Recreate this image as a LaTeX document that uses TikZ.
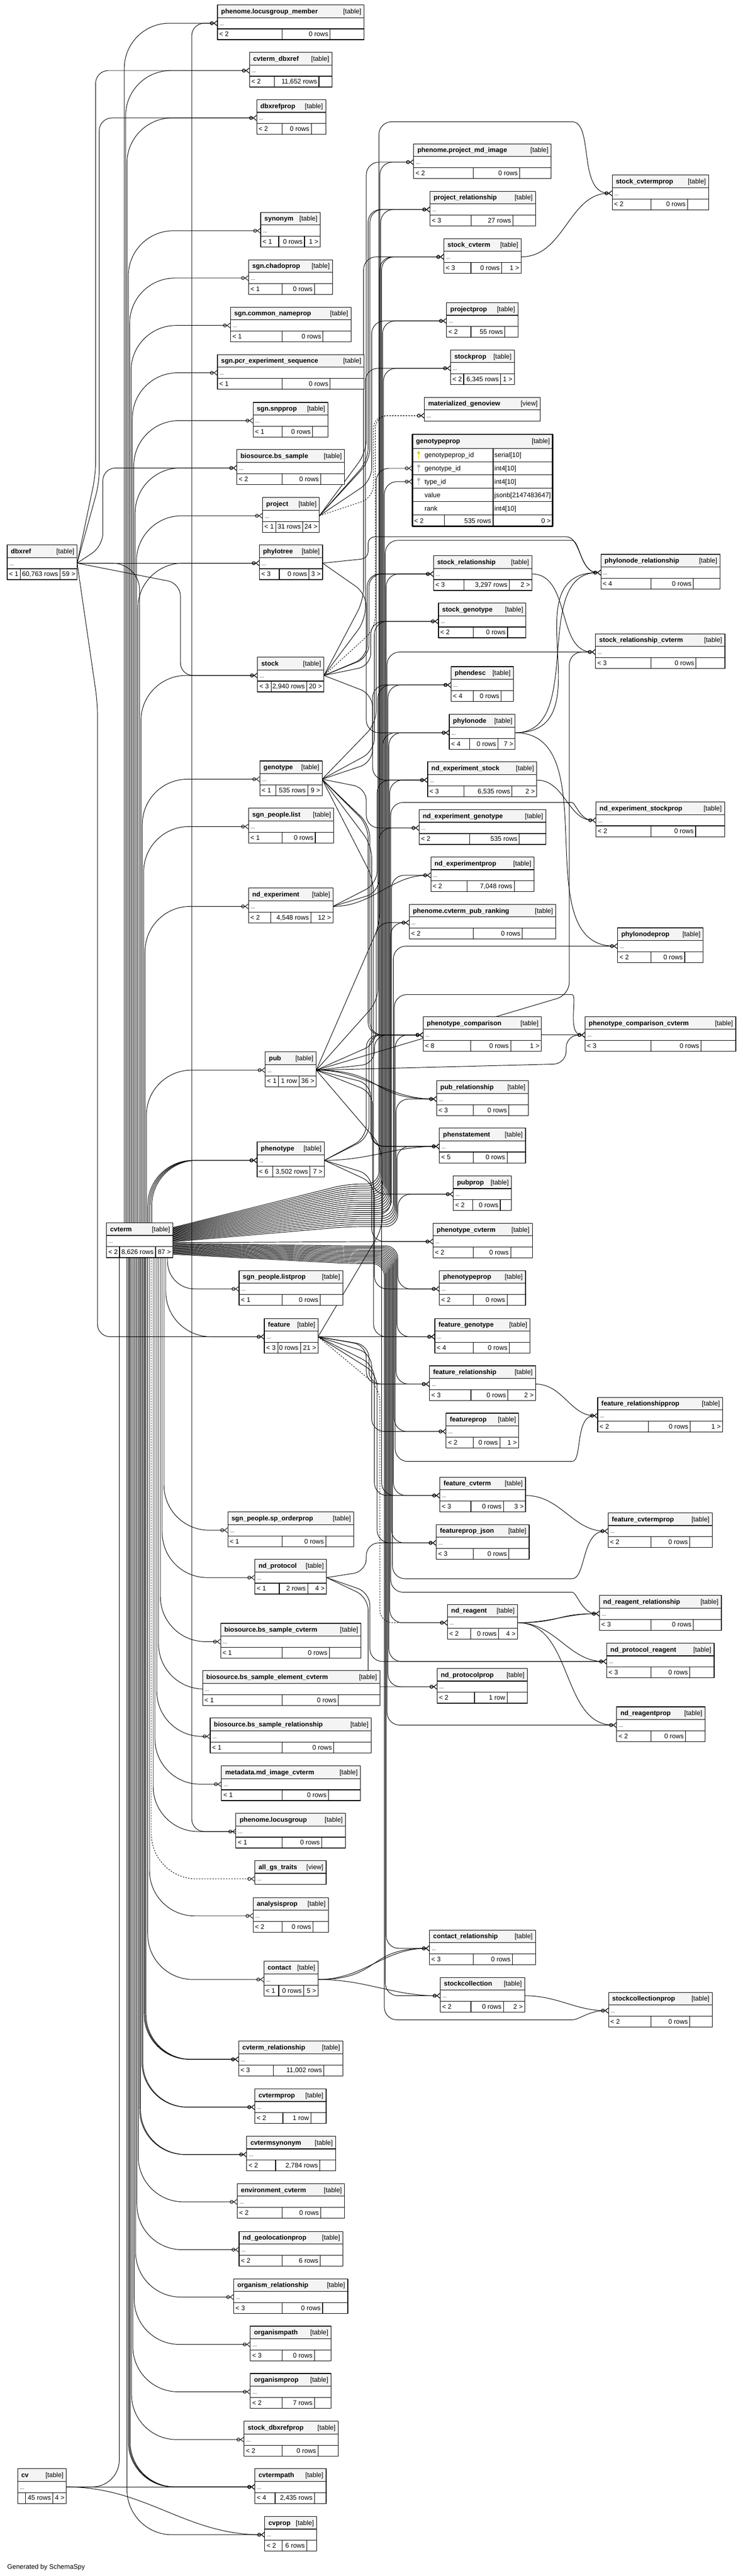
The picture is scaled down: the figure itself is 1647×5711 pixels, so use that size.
\documentclass[tikz,border=0pt]{standalone}
\usepackage{fontspec}
\setmainfont{Liberation Sans}
\usetikzlibrary{arrows.meta,calc}
\definecolor{hdrgray}{HTML}{F4F4F4}
\definecolor{pkyellow}{HTML}{E6D200}
\definecolor{fkgray}{HTML}{B0B0B0}
\pgfdeclarelayer{bg}
\pgfsetlayers{bg,main}

\newcommand{\footcells}[8]{%
  \node[ftxt,anchor=base west] at (#2+4,#1+70) {#6};
  \node[ftxt,anchor=base east] at (#4-4,#1+70) {#7};
  \node[ftxt,anchor=base east] at (#5-4,#1+70) {#8};}
\newcommand{\tbl}[8]{%
  \node[hdrbox,minimum width={#6-#3}] (#1-h) at (#3,#2) {};
  \node[ttl] at (#3+8,#2+19) {#7};
  \node[knd] at (#6-6,#2+19) {[table]};
  \node[dotbox,minimum width={#6-#3}] (#1) at (#3,#2+28) {};
  \node[dtxt] at (#3+5,#2+45) {...};
  \node[footbox,minimum width={#6-#3}] (#1-f) at (#3,#2+53) {};
  \draw[line width=1.3pt] (#4,#2+53) -- (#4,#2+77) (#5,#2+53) -- (#5,#2+77);
  \footcells{#2}{#3}{#4}{#5}{#6}#8}
\newcommand{\vw}[5]{%
  \node[hdrbox,minimum width={#4-#3}] (#1-h) at (#3,#2) {};
  \node[ttl] at (#3+8,#2+19) {#5};
  \node[knd] at (#4-6,#2+19) {[view]};
  \node[dotbox,minimum width={#4-#3}] (#1) at (#3,#2+28) {};
  \node[dtxt] at (#3+5,#2+45) {...};}
\newcommand{\keyico}[3]{%
  \fill[#3] (#1,#2-5) circle (3.3pt);
  \draw[#3,line width=1.8pt] (#1,#2-3) -- (#1,#2+8);}
\newcommand{\fk}[4][]{%
  \path (#2) coordinate (st) (#4,0) coordinate (ln);
  \path ($(st)!0.18!(st |- #3.west)$) coordinate (wp);
  \draw[fk,#1] (st) -- (wp -| ln) -- (#3.west -| ln) -- (#3.west);}
\newcommand{\fks}[3][]{%
  \draw[fk,#1] (#2) to[out=0,in=180] (#3.west);}
\newcommand{\fkv}[4][]{%
  \path ([xshift=#3pt]#2) coordinate (st);
  \draw[fk,rounded corners=100pt,#1] (st) -- (st |- #4.west) -- (#4.west);}
\newcommand{\fkvia}[5][]{%
  \path (#2) coordinate (st) (#4,0) coordinate (ln) (1240,#5) coordinate (vp);
  \path ($(st)!0.18!(st |- vp)$) coordinate (wp);
  \draw[fk,#1] (st) -- (wp -| ln) -- (ln |- vp) -- (vp) to[out=0,in=180] (#3.west);}
\newcommand{\fkc}[5][]{%
  \path ([yshift=#5pt]cvterm.east) coordinate (st) (#3,#4) coordinate (ln);
  \draw[fk,#1] (st) -- (770,#4) -- (ln) -- (#2.west -| ln) -- (#2.west);}
\newcommand{\fkcvia}[6][]{%
  \path ([yshift=#5pt]cvterm.east) coordinate (st) (#3,#4) coordinate (ln) (1240,#6) coordinate (vp);
  \draw[fk,#1] (st) -- (770,#4) -- (ln) -- (ln |- vp) -- (vp) to[out=0,in=180] (#2.west);}

\begin{document}
\begin{tikzpicture}[x=1pt,y=-1pt,line cap=round,line join=round,
  cellbox/.style={draw,line width=1.3pt,fill=white,inner sep=0pt,outer sep=0pt,anchor=north west},
  hdrbox/.style={cellbox,fill=hdrgray,minimum height=28},
  dotbox/.style={cellbox,minimum height=25},
  footbox/.style={cellbox,minimum height=24},
  ttl/.style={font=\fontsize{14.67}{17}\selectfont\bfseries,inner sep=0pt,anchor=base west},
  knd/.style={font=\fontsize{14.67}{17}\selectfont,inner sep=0pt,anchor=base east},
  ftxt/.style={font=\fontsize{14.67}{17}\selectfont,inner sep=0pt},
  dtxt/.style={font=\fontsize{11}{13}\selectfont,inner sep=0pt,anchor=base west},
  fk/.style={line width=1.1pt,rounded corners=28pt,
    -{Circle[open,length=8pt,width=8pt] Straight Barb[reversed,length=7pt,width=11pt]}}]
\useasboundingbox (0,0) rectangle (1647,5711);

\tbl{dbxref}{1208}{16}{45}{133}{171}{dbxref}{{< 1}{60,763 rows}{59 >}}
\tbl{cvterm}{2711}{236}{265}{345}{383}{cvterm}{{< 2}{8,626 rows}{87 >}}
\tbl{cv}{5473}{39}{57}{117}{147}{cv}{{}{45 rows}{4 >}}

\tbl{phenome_locusgroup_member}{11}{482}{625}{732}{807}{phenome.locusgroup\_member}{{< 2}{0 rows}{}}
\tbl{cvterm_dbxref}{116}{553}{608}{707}{736}{cvterm\_dbxref}{{< 2}{11,652 rows}{}}
\tbl{dbxrefprop}{221}{569}{625}{690}{722}{dbxrefprop}{{< 2}{0 rows}{}}
\tbl{synonym}{471}{578}{618}{675}{710}{synonym}{{< 1}{0 rows}{1 >}}
\tbl{sgn_chadoprop}{576}{551}{625}{697}{737}{sgn.chadoprop}{{< 1}{0 rows}{}}
\tbl{sgn_common_nameprop}{681}{511}{625}{716}{778}{sgn.common\_nameprop}{{< 1}{0 rows}{}}
\tbl{sgn_pcr_experiment_sequence}{786}{482}{625}{732}{807}{sgn.pcr\_experiment\_sequence}{{< 1}{0 rows}{}}
\tbl{sgn_snpprop}{892}{561}{625}{693}{727}{sgn.snpprop}{{< 1}{0 rows}{}}
\tbl{biosource_bs_sample}{997}{525}{625}{711}{764}{biosource.bs\_sample}{{< 2}{0 rows}{}}
\tbl{project}{1103}{582}{612}{671}{708}{project}{{< 1}{31 rows}{24 >}}
\tbl{phylotree}{1208}{575}{619}{685}{715}{phylotree}{{< 3}{0 rows}{3 >}}
\tbl{stock}{1457}{571}{601}{680}{718}{stock}{{< 3}{2,940 rows}{20 >}}
\tbl{genotype}{1687}{576}{612}{682}{714}{genotype}{{< 1}{535 rows}{9 >}}
\tbl{sgn_people_list}{1792}{551}{625}{699}{740}{sgn\_people.list}{{< 1}{0 rows}{}}
\tbl{nd_experiment}{1969}{551}{600}{689}{738}{nd\_experiment}{{< 2}{4,548 rows}{12 >}}
\tbl{pub}{2332}{588}{617}{663}{701}{pub}{{< 1}{1 row}{36 >}}
\tbl{phenotype}{2532}{570}{605}{687}{719}{phenotype}{{< 6}{3,502 rows}{7 >}}
\tbl{sgn_people_listprop}{2817}{530}{625}{710}{760}{sgn\_people.listprop}{{< 1}{0 rows}{}}
\tbl{feature}{2923}{586}{616}{666}{705}{feature}{{< 3}{0 rows}{21 >}}
\tbl{sgn_people_sp_orderprop}{3352}{505}{625}{722}{784}{sgn\_people.sp\_orderprop}{{< 1}{0 rows}{}}
\tbl{nd_protocol}{3457}{565}{619}{682}{724}{nd\_protocol}{{< 1}{2 rows}{4 >}}
\tbl{biosource_bs_sample_cvterm}{3599}{489}{625}{730}{800}{biosource.bs\_sample\_cvterm}{{< 1}{0 rows}{}}
\tbl{biosource_bs_sample_element_cvterm}{3704}{449}{625}{750}{842}{biosource.bs\_sample\_element\_cvterm}{{< 1}{0 rows}{}}
\tbl{biosource_bs_sample_relationship}{3809}{466}{625}{740}{823}{biosource.bs\_sample\_relationship}{{< 1}{0 rows}{}}
\tbl{metadata_md_image_cvterm}{3915}{491}{625}{728}{799}{metadata.md\_image\_cvterm}{{< 1}{0 rows}{}}
\tbl{phenome_locusgroup}{4020}{523}{625}{713}{766}{phenome.locusgroup}{{< 1}{0 rows}{}}
\vw{all_gs_traits}{4125}{565}{723}{all\_gs\_traits}
\tbl{analysisprop}{4207}{561}{625}{694}{728}{analysisprop}{{< 2}{0 rows}{}}
\tbl{contact}{4348}{585}{618}{673}{705}{contact}{{< 1}{0 rows}{5 >}}
\tbl{cvterm_relationship}{4525}{529}{606}{718}{760}{cvterm\_relationship}{{< 3}{11,002 rows}{}}
\tbl{cvtermprop}{4631}{565}{627}{689}{723}{cvtermprop}{{< 2}{1 row}{}}
\tbl{cvtermsynonym}{4736}{547}{611}{709}{744}{cvtermsynonym}{{< 2}{2,784 rows}{}}
\tbl{environment_cvterm}{4841}{526}{625}{711}{764}{environment\_cvterm}{{< 2}{0 rows}{}}
\tbl{nd_geolocationprop}{4947}{530}{625}{710}{760}{nd\_geolocationprop}{{< 2}{6 rows}{}}
\tbl{organism_relationship}{5052}{518}{625}{715}{771}{organism\_relationship}{{< 3}{0 rows}{}}
\tbl{organismpath}{5157}{555}{625}{697}{734}{organismpath}{{< 3}{0 rows}{}}
\tbl{organismprop}{5262}{555}{625}{697}{734}{organismprop}{{< 2}{7 rows}{}}
\tbl{stock_dbxrefprop}{5368}{541}{625}{705}{750}{stock\_dbxrefprop}{{< 2}{0 rows}{}}
\tbl{cvtermpath}{5473}{565}{610}{697}{723}{cvtermpath}{{< 4}{2,435 rows}{}}
\tbl{cvprop}{5579}{587}{625}{680}{702}{cvprop}{{< 2}{6 rows}{}}

\tbl{phenome_project_md_image}{319}{917}{1049}{1152}{1222}{phenome.project\_md\_image}{{< 2}{0 rows}{}}
\tbl{project_relationship}{424}{953}{1045}{1137}{1187}{project\_relationship}{{< 3}{27 rows}{}}
\tbl{stock_cvterm}{529}{984}{1044}{1112}{1155}{stock\_cvterm}{{< 3}{0 rows}{1 >}}
\tbl{projectprop}{671}{990}{1044}{1119}{1148}{projectprop}{{< 2}{55 rows}{}}
\tbl{stockprop}{776}{999}{1028}{1110}{1140}{stockprop}{{< 2}{6,345 rows}{1 >}}
\vw{materialized_genoview}{881}{941}{1198}{materialized\_genoview}
\tbl{stock_relationship}{1232}{961}{1029}{1129}{1179}{stock\_relationship}{{< 3}{3,297 rows}{2 >}}
\tbl{stock_genotype}{1337}{972}{1049}{1125}{1166}{stock\_genotype}{{< 2}{0 rows}{}}
\tbl{phendesc}{1478}{1000}{1049}{1111}{1138}{phendesc}{{< 4}{0 rows}{}}
\tbl{phylonode}{1584}{996}{1041}{1104}{1142}{phylonode}{{< 4}{0 rows}{7 >}}
\tbl{nd_experiment_stock}{1689}{948}{1029}{1135}{1190}{nd\_experiment\_stock}{{< 3}{6,535 rows}{2 >}}
\tbl{nd_experiment_genotype}{1795}{929}{1041}{1151}{1210}{nd\_experiment\_genotype}{{< 2}{535 rows}{}}
\tbl{nd_experimentprop}{1900}{955}{1035}{1140}{1184}{nd\_experimentprop}{{< 2}{7,048 rows}{}}
\tbl{phenome_cvterm_pub_ranking}{2005}{907}{1049}{1158}{1232}{phenome.cvterm\_pub\_ranking}{{< 2}{0 rows}{}}
\tbl{phenotype_comparison}{2254}{938}{1043}{1132}{1200}{phenotype\_comparison}{{< 8}{0 rows}{1 >}}
\tbl{pub_relationship}{2396}{968}{1049}{1128}{1171}{pub\_relationship}{{< 3}{0 rows}{}}
\tbl{phenstatement}{2501}{974}{1049}{1124}{1165}{phenstatement}{{< 5}{0 rows}{}}
\tbl{pubprop}{2607}{1005}{1048}{1109}{1134}{pubprop}{{< 2}{0 rows}{}}
\tbl{phenotype_cvterm}{2712}{960}{1049}{1132}{1180}{phenotype\_cvterm}{{< 2}{0 rows}{}}
\tbl{phenotypeprop}{2817}{974}{1049}{1124}{1165}{phenotypeprop}{{< 2}{0 rows}{}}
\tbl{feature_genotype}{2923}{964}{1049}{1129}{1175}{feature\_genotype}{{< 4}{0 rows}{}}
\tbl{feature_relationship}{3028}{952}{1044}{1126}{1187}{feature\_relationship}{{< 3}{0 rows}{2 >}}
\tbl{featureprop}{3133}{989}{1049}{1108}{1150}{featureprop}{{< 2}{0 rows}{1 >}}
\tbl{feature_cvterm}{3275}{975}{1044}{1116}{1165}{feature\_cvterm}{{< 3}{0 rows}{3 >}}
\tbl{featureprop_json}{3380}{967}{1049}{1128}{1173}{featureprop\_json}{{< 3}{0 rows}{}}
\tbl{nd_reagent}{3557}{992}{1043}{1105}{1147}{nd\_reagent}{{< 2}{0 rows}{4 >}}
\tbl{nd_protocolprop}{3699}{969}{1052}{1124}{1169}{nd\_protocolprop}{{< 2}{1 row}{}}
\tbl{contact_relationship}{4279}{952}{1049}{1136}{1187}{contact\_relationship}{{< 3}{0 rows}{}}
\tbl{stockcollection}{4384}{976}{1044}{1116}{1163}{stockcollection}{{< 2}{0 rows}{2 >}}

\tbl{stock_cvtermprop}{388}{1357}{1443}{1524}{1571}{stock\_cvtermprop}{{< 2}{0 rows}{}}
\tbl{phylonode_relationship}{1229}{1332}{1443}{1537}{1596}{phylonode\_relationship}{{< 4}{0 rows}{}}
\tbl{stock_relationship_cvterm}{1405}{1320}{1443}{1543}{1607}{stock\_relationship\_cvterm}{{< 3}{0 rows}{}}
\tbl{nd_experiment_stockprop}{1778}{1321}{1443}{1542}{1606}{nd\_experiment\_stockprop}{{< 2}{0 rows}{}}
\tbl{phylonodeprop}{2057}{1369}{1443}{1518}{1559}{phylonodeprop}{{< 2}{0 rows}{}}
\tbl{phenotype_comparison_cvterm}{2254}{1297}{1443}{1554}{1631}{phenotype\_comparison\_cvterm}{{< 3}{0 rows}{}}
\tbl{feature_relationshipprop}{3098}{1325}{1437}{1530}{1602}{feature\_relationshipprop}{{< 2}{0 rows}{1 >}}
\tbl{feature_cvtermprop}{3354}{1348}{1443}{1529}{1579}{feature\_cvtermprop}{{< 2}{0 rows}{}}
\tbl{nd_reagent_relationship}{3537}{1329}{1443}{1537}{1599}{nd\_reagent\_relationship}{{< 3}{0 rows}{}}
\tbl{nd_protocol_reagent}{3643}{1345}{1443}{1529}{1583}{nd\_protocol\_reagent}{{< 3}{0 rows}{}}
\tbl{nd_reagentprop}{3784}{1367}{1443}{1520}{1563}{nd\_reagentprop}{{< 2}{0 rows}{}}
\tbl{stockcollectionprop}{4417}{1349}{1443}{1529}{1579}{stockcollectionprop}{{< 2}{0 rows}{}}

% genotypeprop, shown with its columns
\node[hdrbox,minimum width=311,minimum height=31] (genotypeprop-h) at (914,963) {};
\node[ttl] at (922,983) {genotypeprop};
\node[knd] at (1219,983) {[table]};
\node[cellbox,minimum width=179,minimum height=29.5] (gp-pk) at (914,994) {};
\node[cellbox,minimum width=132,minimum height=29.5] at (1093,994) {};
\node[cellbox,minimum width=179,minimum height=29.5] (gp-gid) at (914,1023.5) {};
\node[cellbox,minimum width=132,minimum height=29.5] at (1093,1023.5) {};
\node[cellbox,minimum width=179,minimum height=29.5] (gp-tid) at (914,1053) {};
\node[cellbox,minimum width=132,minimum height=29.5] at (1093,1053) {};
\node[cellbox,minimum width=179,minimum height=29.5] (gp-val) at (914,1082.5) {};
\node[cellbox,minimum width=132,minimum height=29.5] at (1093,1082.5) {};
\node[cellbox,minimum width=179,minimum height=29.5] (gp-rank) at (914,1112) {};
\node[cellbox,minimum width=132,minimum height=29.5] at (1093,1112) {};
\node[footbox,minimum width=311,minimum height=25] (genotypeprop) at (914,1141.5) {};
\draw[line width=1.3pt] (985,1141.5) -- (985,1166.5) (1093,1141.5) -- (1093,1166.5);
\keyico{928}{1008.75}{pkyellow}
\keyico{928}{1038.25}{fkgray}
\keyico{928}{1067.75}{fkgray}
\node[ftxt,anchor=base west] at (941,1014) {genotypeprop\_id};
\node[ftxt,anchor=base west] at (941,1043.5) {genotype\_id};
\node[ftxt,anchor=base west] at (941,1073) {type\_id};
\node[ftxt,anchor=base west] at (941,1102.5) {value};
\node[ftxt,anchor=base west] at (941,1132) {rank};
\node[ftxt,anchor=base west] at (1096,1014) {serial[10]};
\node[ftxt,anchor=base west] at (1096,1043.5) {int4[10]};
\node[ftxt,anchor=base west] at (1096,1073) {int4[10]};
\node[ftxt,anchor=base west] at (1096,1102.5) {jsonb[2147483647]};
\node[ftxt,anchor=base west] at (1096,1132) {int4[10]};
\node[ftxt,anchor=base west] at (918,1160) {< 2};
\node[ftxt,anchor=base east] at (1089,1160) {535 rows};
\node[ftxt,anchor=base east] at (1221,1160) {0 >};
\draw[line width=3pt] (914,963) rectangle (1225,1166.5);

\node[ftxt,anchor=base west] (credit) at (16,5696) {Generated by SchemaSpy};

\begin{pgfonlayer}{bg}
\fill[white] (0,0) rectangle (1647,5711);

% dbxref
\fk{dbxref.east}{cvterm_dbxref}{212}
\fk{dbxref.east}{dbxrefprop}{220}
\fk{dbxref.east}{biosource_bs_sample}{228}
\fks{dbxref.east}{phylotree}
\fk{dbxref.east}{stock}{400}
\fk{dbxref.east}{feature}{216}
\draw[fk,rounded corners=60pt] (dbxref.east) -- (dbxref.east -| cvterm.north) -- (cvterm.north);

% cv
\path ([xshift=-45pt]cvterm.south) coordinate (cvin);
\draw[fk,rounded corners=60pt] (cv.east) -- (cv.east -| cvin) -- (cvin);
\fks{cv.east}{cvtermpath}
\fks{cv.east}{cvprop}

% cvterm, upwards
\fkv{cvterm.north}{-34}{phenome_locusgroup_member}
\fkv{cvterm.north}{-31}{cvterm_dbxref}
\fkv{cvterm.north}{-28}{dbxrefprop}
\fkv{cvterm.north}{-25}{synonym}
\fkv{cvterm.north}{-22}{sgn_chadoprop}
\fkv{cvterm.north}{-19}{sgn_common_nameprop}
\fkv{cvterm.north}{-16}{sgn_pcr_experiment_sequence}
\fkv{cvterm.north}{-13}{sgn_snpprop}
\fkv{cvterm.north}{-10}{biosource_bs_sample}
\fkv{cvterm.north}{-7}{project}
\fkv{cvterm.north}{-4}{phylotree}
\fkv{cvterm.north}{3}{stock}
\fkv{cvterm.north}{6}{genotype}
\fkv{cvterm.north}{9}{sgn_people_list}
\fkv{cvterm.north}{12}{nd_experiment}
\fkv{cvterm.north}{15}{pub}
\fkv{cvterm.north}{18}{phenotype}
\fkv{cvterm.north}{21}{phenotype}
\fkv{cvterm.north}{24}{phenotype}
\fkv{cvterm.north}{27}{phenotype}

% cvterm, to the right
\fkcvia{stock_cvtermprop}{840}{2625}{30}{270}
\fkc{phenome_project_md_image}{842}{2629.5}{28.5}
\fkc{project_relationship}{844}{2634}{27}
\fkc{stock_cvterm}{846}{2638.5}{25.5}
\fkc{projectprop}{848}{2643}{24}
\fkc{stockprop}{850}{2647.5}{22.5}
\fkc{gp-tid}{852}{2652}{21}
\fkcvia{phylonode_relationship}{854}{2656.5}{19.5}{1198}
\fkc{stock_relationship}{856}{2661}{18}
\fkc{stock_relationship_cvterm}{858}{2665.5}{16.5}
\fkc{phendesc}{860}{2670}{15}
\fkc{phylonode}{862}{2674.5}{13.5}
\fkc{nd_experiment_stock}{864}{2679}{12}
\fkcvia{nd_experiment_stockprop}{866}{2683.5}{10.5}{1779}
\fkc{nd_experimentprop}{868}{2688}{9}
\fkc{phenome_cvterm_pub_ranking}{866}{2692.5}{7.5}
\fkc{phylonodeprop}{872}{2697}{6}
\fkcvia{phenotype_comparison_cvterm}{874}{2701.5}{4.5}{2205}
\fkc{phenotype_comparison}{876}{2706}{3}
\fkc{pub_relationship}{878}{2710.5}{1.5}
\fkc{phenstatement}{880}{2715}{0}
\fkc{pubprop}{882}{2719.5}{-1.5}
\fks{[yshift=-3pt]cvterm.east}{phenotype_cvterm}
\fkc{phenotypeprop}{882}{2762}{-5}
\fkc{feature_genotype}{880}{2764.6}{-6.6}
\fkc{feature_relationship}{878}{2767.2}{-8.2}
\fkcvia{feature_relationshipprop}{876}{2769.8}{-9.8}{3240}
\fkc{featureprop}{874}{2772.4}{-11.4}
\fkc{feature_cvterm}{872}{2775}{-13}
\fkcvia{feature_cvtermprop}{870}{2777.6}{-14.6}{3500}
\fkc{featureprop_json}{868}{2780.2}{-16.2}
\fkcvia{nd_reagent_relationship}{866}{2782.8}{-17.8}{3530}
\fkc{nd_reagent}{864}{2785.4}{-19.4}
\fkc{nd_protocol_reagent}{862}{2788}{-21}
\fkc{nd_protocolprop}{860}{2790.6}{-22.6}
\fkc{nd_reagentprop}{858}{2793.2}{-24.2}
\fkc{contact_relationship}{856}{2795.8}{-25.8}
\fkc{stockcollection}{854}{2798.4}{-27.4}
\fkcvia{stockcollectionprop}{852}{2801}{-29}{4478}

% cvterm, downwards
\fkv[rounded corners=60pt]{cvterm.south}{62}{sgn_people_listprop}
\fkv{cvterm.south}{58}{feature}
\fkv{cvterm.south}{54}{sgn_people_sp_orderprop}
\fkv{cvterm.south}{50}{nd_protocol}
\fkv{cvterm.south}{46}{biosource_bs_sample_cvterm}
\fkv{cvterm.south}{42}{biosource_bs_sample_element_cvterm}
\fkv{cvterm.south}{38}{biosource_bs_sample_relationship}
\fkv{cvterm.south}{34}{metadata_md_image_cvterm}
\fkv{cvterm.south}{30}{phenome_locusgroup}
\fkv[dashed]{cvterm.south}{26}{all_gs_traits}
\fkv{cvterm.south}{22}{analysisprop}
\fkv{cvterm.south}{18}{contact}
\fkv{cvterm.south}{14}{cvterm_relationship}
\fkv{cvterm.south}{12}{cvterm_relationship}
\fkv{cvterm.south}{10}{cvterm_relationship}
\fkv{cvterm.south}{7}{cvtermprop}
\fkv{cvterm.south}{5}{cvtermprop}
\fkv{cvterm.south}{2}{cvtermsynonym}
\fkv{cvterm.south}{0}{cvtermsynonym}
\fkv{cvterm.south}{-3}{environment_cvterm}
\fkv{cvterm.south}{-6}{nd_geolocationprop}
\fkv{cvterm.south}{-9}{organism_relationship}
\fkv{cvterm.south}{-12}{organismpath}
\fkv{cvterm.south}{-15}{organismprop}
\fkv{cvterm.south}{-18}{stock_dbxrefprop}
\fkv{cvterm.south}{-21}{cvtermpath}
\fkv{cvterm.south}{-23}{cvtermpath}
\fkv{cvterm.south}{-25}{cvtermpath}
\fkv{cvterm.south}{-28}{cvprop}

\draw[fk] (phenome_locusgroup.west) -- (425,4060.5) -- (425,51.5) -- (phenome_locusgroup_member.west);

% project, phylotree, stock
\fk{project.east}{phenome_project_md_image}{812}
\fk{project.east}{project_relationship}{816}
\fk{project.east}{project_relationship}{820}
\fk{project.east}{projectprop}{824}
\fk[dashed]{project.east}{materialized_genoview}{828}
\fk{phylotree.east}{phylonode}{812}
\fkvia[rounded corners=15pt]{phylotree.east}{phylonode_relationship}{816}{1190}
\fk{stock.east}{stock_cvterm}{806}
\fk{stock.east}{stockprop}{810}
\fk[dashed]{stock.east}{materialized_genoview}{832}
\fk{stock.east}{stock_relationship}{814}
\fk{stock.east}{stock_relationship}{818}
\fk{stock.east}{stock_genotype}{822}
\fk{stock.east}{nd_experiment_stock}{826}

% genotype, nd_experiment
\fk{genotype.east}{gp-gid}{834}
\fk{genotype.east}{stock_genotype}{830}
\fk{genotype.east}{phendesc}{826}
\fk{genotype.east}{nd_experiment_genotype}{812}
\fk{genotype.east}{phenotype_comparison}{816}
\fk{genotype.east}{phenotype_comparison}{820}
\fk{genotype.east}{phenstatement}{824}
\fk{genotype.east}{feature_genotype}{828}
\fk{nd_experiment.east}{nd_experiment_stock}{836}
\fk{nd_experiment.east}{nd_experiment_genotype}{840}
\fks{nd_experiment.east}{nd_experimentprop}

% pub, phenotype
\fk{pub.east}{stock_cvterm}{842}
\fk{pub.east}{phendesc}{838}
\fk{pub.east}{phenome_cvterm_pub_ranking}{834}
\fk{pub.east}{phenotype_comparison}{830}
\fk{pub.east}{phenotype_comparison_cvterm}{1255}
\fk{pub.east}{stock_relationship_cvterm}{1262}
\fks{pub.east}{pub_relationship}
\fks[looseness=1.4]{pub.east}{pub_relationship}
\fk{pub.east}{phenstatement}{822}
\fk{pub.east}{pubprop}{826}
\fk{pub.east}{feature_cvterm}{846}
\fk{phenotype.east}{phenotype_comparison}{812}
\fk{phenotype.east}{phenotype_comparison}{818}
\fks{phenotype.east}{phenstatement}
\fk{phenotype.east}{phenotype_cvterm}{824}
\fk{phenotype.east}{phenotypeprop}{830}

% feature, nd_protocol, contact
\fk{feature.east}{phylonode}{848}
\fks{feature.east}{feature_genotype}
\fks[looseness=1.4]{feature.east}{feature_genotype}
\fk{feature.east}{feature_relationship}{812}
\fk{feature.east}{feature_relationship}{818}
\fk{feature.east}{featureprop}{824}
\fk{feature.east}{feature_cvterm}{830}
\fk{feature.east}{featureprop_json}{836}
\fk[dashed]{feature.east}{nd_reagent}{842}
\fk{nd_protocol.east}{featureprop_json}{812}
\fk{nd_protocol.east}{nd_protocolprop}{816}
\fk{nd_protocol.east}{nd_protocol_reagent}{820}
\fks{contact.east}{contact_relationship}
\fks[looseness=1.4]{contact.east}{contact_relationship}
\fks{contact.east}{stockcollection}

% right-hand tables
\fks{stock_cvterm.east}{stock_cvtermprop}
\fks{stock_relationship.east}{stock_relationship_cvterm}
\fks{phylonode.east}{phylonode_relationship}
\fks[looseness=1.3]{phylonode.east}{phylonode_relationship}
\fks{phylonode.east}{phylonodeprop}
\fks{nd_experiment_stock.east}{nd_experiment_stockprop}
\fks{phenotype_comparison.east}{phenotype_comparison_cvterm}
\fks{feature_relationship.east}{feature_relationshipprop}
\fks{feature_cvterm.east}{feature_cvtermprop}
\fks{nd_reagent.east}{nd_reagent_relationship}
\fks[looseness=1.4]{nd_reagent.east}{nd_reagent_relationship}
\fks{nd_reagent.east}{nd_protocol_reagent}
\fks{nd_reagent.east}{nd_reagentprop}
\fks{stockcollection.east}{stockcollectionprop}
\end{pgfonlayer}
\end{tikzpicture}
\end{document}
